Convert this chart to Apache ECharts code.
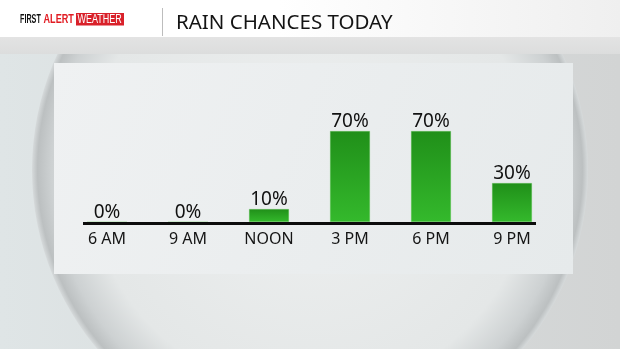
<!DOCTYPE html>
<html><head><meta charset="utf-8">
<script src="https://cdn.jsdelivr.net/npm/echarts@6/dist/echarts.min.js"></script>
<style>html,body{margin:0;padding:0;background:#dde2e3;}#c{width:620px;height:349px;}</style>
</head><body><div id="c"></div>
<script>
const categories = ['6 AM', '9 AM', 'NOON', '3 PM', '6 PM', '9 PM'];
const rainChance = [0, 0, 10, 70, 70, 30];
const titleText = 'RAIN CHANCES TODAY';

const chart = echarts.init(document.getElementById('c'), null, {renderer: 'canvas'});
const FONT = '"Noto Sans", "Open Sans", sans-serif';
const LOGO = '"Liberation Sans", Arial, sans-serif';

function logoText(x, text, fill, weight, sx) {
  return {type: 'text', z: 6, x: x, y: 13.5, scaleX: sx, originX: 0,
    style: {x: 0, y: 0, text: text, fill: fill, fontSize: 12, fontWeight: weight,
      fontFamily: LOGO, verticalAlign: 'top', textVerticalAlign: 'top'}};
}

chart.setOption({
  animation: false,
  backgroundColor: 'transparent',
  grid: {left: 66.5, right: 67.5, top: 92, bottom: 127},
  xAxis: {
    type: 'category', data: categories,
    axisLine: {show: false}, axisTick: {show: false},
    axisLabel: {color: '#151515', fontSize: 16, fontFamily: FONT, margin: 9}
  },
  yAxis: {type: 'value', min: 0, max: 100, show: false, splitLine: {show: false}},
  graphic: [
    {type: 'rect', z: -10, shape: {x: 0, y: 0, width: 620, height: 349},
      style: {fill: {type: 'linear', x: 0, y: 0, x2: 1, y2: 0, colorStops: [
        {offset: 0, color: '#dfe5e6'}, {offset: 1, color: '#d2d4d4'}]}}},
    {type: 'circle', z: -9, shape: {cx: 310, cy: 170, r: 278},
      style: {fill: {type: 'radial', x: 0.5, y: 0.5, r: 0.5, colorStops: [
        {offset: 0, color: '#eef0f0'}, {offset: 0.8, color: '#e4e7e7'},
        {offset: 0.93, color: '#cdd1d2'}, {offset: 0.98, color: '#bcc0c1'}, {offset: 1, color: '#d6dadb'}]}}},
    {type: 'rect', z: -8, shape: {x: 54, y: 63, width: 519, height: 211},
      style: {fill: {type: 'linear', x: 0, y: 0, x2: 1, y2: 1, colorStops: [
        {offset: 0, color: '#eff1f2'}, {offset: 1, color: '#e6eaeb'}]}}},
    {type: 'rect', z: -7, shape: {x: 0, y: 37, width: 620, height: 17},
      style: {fill: {type: 'linear', x: 0, y: 0, x2: 0, y2: 1, colorStops: [
        {offset: 0, color: '#e3e3e3'}, {offset: 1, color: '#dcdddd'}]}}},
    {type: 'rect', z: -6, shape: {x: 0, y: 0, width: 620, height: 37},
      style: {fill: {type: 'linear', x: 0, y: 0, x2: 1, y2: 0, colorStops: [
        {offset: 0, color: '#ffffff'}, {offset: 0.45, color: '#ffffff'}, {offset: 1, color: '#efefef'}]}}},
    {type: 'rect', z: 5, shape: {x: 83, y: 222, width: 453, height: 3}, style: {fill: '#0c0c0c'}},
    {type: 'rect', z: 5, shape: {x: 162, y: 8, width: 1, height: 28}, style: {fill: '#bdbdbd'}},
    {type: 'text', z: 5, left: 176, top: 12.5, style: {text: titleText, fill: '#141414', fontSize: 20.5, fontFamily: FONT}},
    logoText(20, 'FIRST', '#111111', 'bold', 0.6),
    logoText(43.5, 'ALERT', '#e11b22', 'bold', 0.76),
    {type: 'rect', z: 5, shape: {x: 76, y: 13, width: 48, height: 12.5}, style: {fill: '#d9212a'}},
    logoText(77.5, 'WEATHER', '#ffffff', 'normal', 0.75)
  ],
  series: [{
    type: 'bar', data: rainChance, barWidth: 40,
    itemStyle: {
      color: {type: 'linear', x: 0, y: 0, x2: 0, y2: 1, colorStops: [
        {offset: 0, color: '#208f19'}, {offset: 1, color: '#34b92c'}]},
      borderColor: 'rgba(120,210,110,0.6)', borderWidth: 0.5
    },
    label: {show: true, position: 'top', distance: 0, color: '#111', fontSize: 19,
      fontFamily: FONT, formatter: p => p.value + '%'}
  }]
});
</script></body></html>
